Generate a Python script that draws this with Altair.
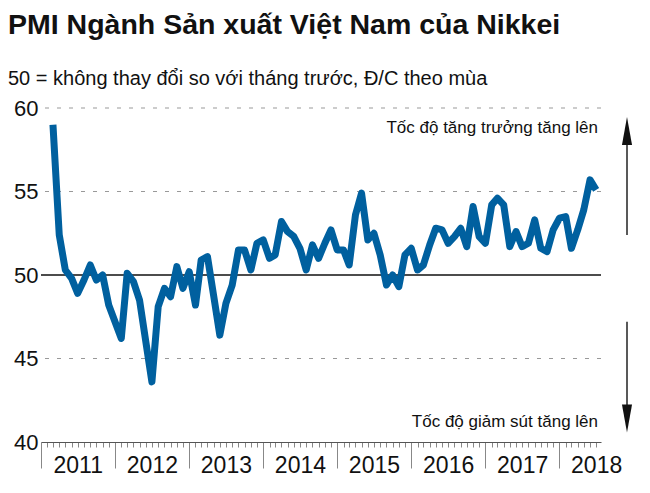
import altair as alt
import pandas as pd

# ---- data ----
first_month = "2011-03-01"
pmi = [59.0, 52.4, 50.3, 49.8, 48.9, 49.7, 50.6, 49.7, 50.0, 48.2,
       47.2, 46.2, 50.1, 49.6, 48.5, 46.0, 43.6, 48.1, 49.2, 48.7,
       50.5, 49.2, 50.2, 48.2, 50.9, 51.1, 48.8, 46.4, 48.3, 49.4,
       51.5, 51.5, 50.3, 51.9, 52.1, 51.0, 51.2, 53.2, 52.6, 52.3,
       51.6, 50.3, 51.8, 51.0, 51.9, 52.7, 51.5, 51.5, 50.6, 53.6,
       54.9, 52.1, 52.5, 51.2, 49.4, 50.0, 49.3, 51.2, 51.6, 50.3,
       50.6, 51.8, 52.8, 52.7, 51.9, 52.3, 52.8, 51.7, 54.1, 52.3,
       51.9, 54.2, 54.6, 54.2, 51.7, 52.6, 51.7, 51.9, 53.3, 51.6,
       51.4, 52.7, 53.4, 53.5, 51.6, 52.7, 53.9, 55.7, 55.1]
dates = pd.date_range(first_month, periods=len(pmi), freq="MS")
df = pd.DataFrame({"date": dates, "pmi": pmi})

y_ticks = [40, 45, 50, 55, 60]
dashed_levels = [60, 55, 45]
neutral_level = [50]
years = list(range(2011, 2019))

title_text = "PMI Ngành Sản xuất Việt Nam của Nikkei"
subtitle_text = "50 = không thay đổi so với tháng trước, Đ/C theo mùa"
up_text = "Tốc độ tăng trưởng tăng lên"
down_text = "Tốc độ giảm sút tăng lên"

FONT = "Liberation Sans"
LINE_COLOR = "#00609f"

month_ticks = [alt.DateTime(year=y, month=m, date=1)
               for y in years for m in range(1, 13)
               if not (y == 2018 and m > 7)]

x_scale = alt.Scale(domain=[alt.DateTime(year=2011, month=1, date=1),
                            alt.DateTime(year=2018, month=7, date=25)])
y_scale = alt.Scale(domain=[40, 60], nice=False, zero=False)

x_axis = alt.Axis(
    values=month_ticks,
    title=None,
    grid=False,
    domainColor="#555555",
    domainWidth=1,
    tickColor="#888888",
    tickWidth=1,
    tickSize={"condition": {"test": "month(datum.value) == 0", "value": 26}, "value": 5},
    labelExpr="month(datum.value) == 6 ? timeFormat(datum.value, '%Y') : ''",
    labelOverlap=False,
    labelFlush=False,
    labelFontSize=23,
    labelFont=FONT,
    labelColor="#111111",
    labelPadding=7,
)
y_axis = alt.Axis(
    values=y_ticks,
    title=None,
    grid=False,
    domain=False,
    ticks=False,
    labelFontSize=22,
    labelFont=FONT,
    labelColor="#111111",
    labelPadding=3,
)

line = alt.Chart(df).mark_line(
    color=LINE_COLOR, strokeWidth=7, strokeJoin="round", strokeCap="butt"
).encode(
    x=alt.X("date:T", scale=x_scale, axis=x_axis),
    y=alt.Y("pmi:Q", scale=y_scale, axis=y_axis),
)

dashed = alt.Chart(pd.DataFrame({"level": dashed_levels})).mark_rule(
    color="#999999", strokeWidth=1, strokeDash=[4, 8]
).encode(y=alt.Y("level:Q", scale=y_scale))

neutral = alt.Chart(pd.DataFrame({"level": neutral_level})).mark_rule(
    color="#111111", strokeWidth=1.3
).encode(y=alt.Y("level:Q", scale=y_scale))

one = alt.Data(values=[{"a": 1}])

def label(text, x, y, size, weight="normal", align="left"):
    return alt.Chart(one).mark_text(
        text=text, font=FONT, fontSize=size, fontWeight=weight,
        align=align, baseline="alphabetic", color="#111111"
    ).encode(x=alt.value(x), y=alt.value(y))

title = label(title_text, -33, -74, 28.5, "bold")
subtitle = label(subtitle_text, -33, -23, 20)
up_lbl = label(up_text, 557, 25, 17, align="right")
down_lbl = label(down_text, 557, 319, 17, align="right")

# arrows (decoration at the right of the plot)
arrow_df = pd.DataFrame({"y1": [57.9, 47.2], "y2": [52.4, 42.2]})
arrow_lines = alt.Chart(arrow_df).mark_rule(color="#222222", strokeWidth=1.5).encode(
    x=alt.value(586), y=alt.Y("y1:Q", scale=y_scale), y2="y2:Q"
)
head_up = alt.Chart(pd.DataFrame({"y": [58.62]})).mark_point(
    shape="M0,-1L0.36,1L-0.36,1Z", size=784, filled=True, color="#111111", opacity=1
).encode(x=alt.value(586), y=alt.Y("y:Q", scale=y_scale))
head_down = alt.Chart(pd.DataFrame({"y": [41.41]})).mark_point(
    shape="M0,1L0.36,-1L-0.36,-1Z", size=784, filled=True, color="#111111", opacity=1
).encode(x=alt.value(586), y=alt.Y("y:Q", scale=y_scale))

chart = alt.layer(
    dashed, neutral, line, title, subtitle, up_lbl, down_lbl,
    arrow_lines, head_up, head_down
).properties(
    width=560, height=334,
    padding={"left": 33, "top": 100, "right": 40, "bottom": 45},
    autosize=alt.AutoSizeParams(type="none"),
    background="white",
).configure_view(stroke=None)

chart.save("out.html", embed_options={"renderer": "svg", "actions": False})
